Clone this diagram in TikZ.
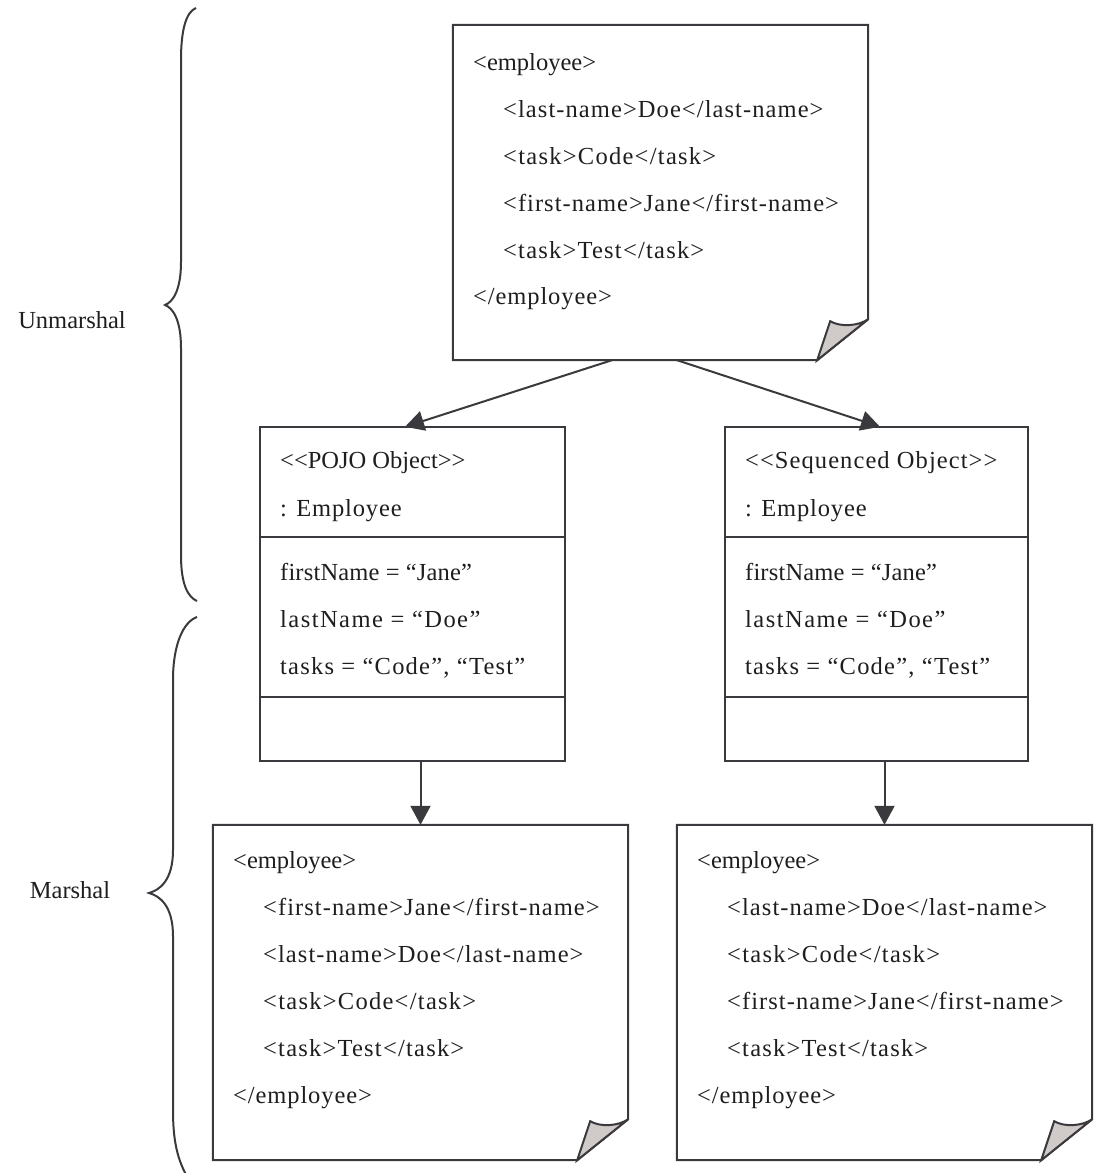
\documentclass[tikz,border=0pt]{standalone}
\usepackage{fontspec}
\setmainfont{Liberation Serif}
\usetikzlibrary{arrows.meta,calc}
\definecolor{ink}{RGB}{58,58,62}
\definecolor{curl}{RGB}{208,203,200}
\definecolor{txtc}{RGB}{30,30,30}
\tikzset{
  outline/.style={draw=ink, line width=2pt, line join=miter},
  frame/.style={inner sep=0pt, draw=none, minimum width=#1},
  txt/.style={anchor=base west, inner sep=0pt, text=txtc,
              font=\fontsize{24.5}{30}\selectfont},
  ls/.style={font=\fontsize{24.5}{30}\selectfont\addfontfeature{LetterSpace=#1}},
  side/.style={inner sep=0pt, text=txtc, font=\fontsize{24.5}{30}\selectfont},
  link/.style={draw=ink, line width=2pt,
               -{Triangle[length=19pt,width=20pt]}},
  bracket/.style={draw=ink, line width=2pt},
}
% document with a dog-eared bottom right corner
\newcommand\drawnote[1]{%
  \draw[outline] (#1.north west) -- (#1.north east)
    -- ($(#1.south east)+(0,-41)$) -- ($(#1.south east)+(-51,0)$)
    -- (#1.south west) -- cycle;
  \filldraw[outline, fill=curl] ($(#1.south east)+(-51,0)$)
    -- ($(#1.south east)+(-38,-39)$)
    .. controls ($(#1.south east)+(-28,-33)$) and ($(#1.south east)+(-10,-34)$)
    .. ($(#1.south east)+(0,-41)$) -- cycle;
}
% class box with two compartment separators
\newcommand\drawclass[1]{%
  \draw[outline] (#1.north west) rectangle (#1.south east);
  \draw[outline] ($(#1.north west)+(0,110)$) -- ($(#1.north east)+(0,110)$);
  \draw[outline] ($(#1.north west)+(0,270)$) -- ($(#1.north east)+(0,270)$);
}
\begin{document}
\begin{tikzpicture}[x=1pt,y=-1pt]
\useasboundingbox (0,0) rectangle (1093,1173);

% frames
\node[frame=415pt, minimum height=335pt] (xmlin) at (660.5,192.5) {};
\node[frame=305pt, minimum height=334pt] (pojo) at (412.5,594) {};
\node[frame=303pt, minimum height=334pt] (seq) at (876.5,594) {};
\node[frame=415pt, minimum height=335pt] (outL) at (420.5,992.5) {};
\node[frame=415pt, minimum height=335pt] (outR) at (884.5,992.5) {};

\drawnote{xmlin}
\drawnote{outL}
\drawnote{outR}
\drawclass{pojo}
\drawclass{seq}

% input document
\node[txt] (i1) at (473,70)  {<employee>};
\node[txt, ls=4.4] (i2) at (503,117) {<last-name>Doe</last-name>};
\node[txt, ls=5.2] (i3) at (503,164) {<task>Code</task>};
\node[txt, ls=4.2] (i4) at (503,211) {<first-name>Jane</first-name>};
\node[txt, ls=5.0] (i5) at (503,258) {<task>Test</task>};
\node[txt, ls=3.7] (i6) at (473,304) {</employee>};

% POJO object
\node[txt] (p1) at (280,468) {<{}<POJO Object>{}>};
\node[txt, ls=3.5] (p2) at (280,516) {: Employee};
\node[txt, ls=0.7] (p3) at (280,580) {firstName = “Jane”};
\node[txt, ls=6.0] (p4) at (280,627) {lastName = “Doe”};
\node[txt, ls=5.0] (p5) at (280,674) {tasks = “Code”, “Test”};

% sequenced object
\node[txt, ls=4.4] (s1) at (745,468) {<{}<Sequenced Object>{}>};
\node[txt, ls=3.5] (s2) at (745,516) {: Employee};
\node[txt, ls=0.7] (s3) at (745,580) {firstName = “Jane”};
\node[txt, ls=6.0] (s4) at (745,627) {lastName = “Doe”};
\node[txt, ls=5.0] (s5) at (745,674) {tasks = “Code”, “Test”};

% output of the POJO object
\node[txt] (a1) at (233,868)  {<employee>};
\node[txt, ls=4.3] (a2) at (263,915)  {<first-name>Jane</first-name>};
\node[txt, ls=4.4] (a3) at (263,962)  {<last-name>Doe</last-name>};
\node[txt, ls=5.2] (a4) at (263,1009) {<task>Code</task>};
\node[txt, ls=5.0] (a5) at (263,1056) {<task>Test</task>};
\node[txt, ls=3.7] (a6) at (233,1103) {</employee>};

% output of the sequenced object
\node[txt] (b1) at (697,868)  {<employee>};
\node[txt, ls=4.4] (b2) at (727,915)  {<last-name>Doe</last-name>};
\node[txt, ls=5.2] (b3) at (727,962)  {<task>Code</task>};
\node[txt, ls=4.3] (b4) at (727,1009) {<first-name>Jane</first-name>};
\node[txt, ls=5.0] (b5) at (727,1056) {<task>Test</task>};
\node[txt, ls=3.7] (b6) at (697,1103) {</employee>};

% connectors
\draw[link] ($(xmlin.south)+(-48.5,0)$) -- ($(pojo.north)+(-7.5,0)$);
\draw[link] ($(xmlin.south)+(16.5,0)$) -- ($(seq.north)+(3.5,0)$);
\draw[link] (pojo.south -| outL.north) -- (outL.north);
\draw[link] (seq.south -| outR.north) -- (outR.north);

% phase labels and braces
\node[side] (unm) at (72,320) {Unmarshal};
\node[side] (mar) at (70,890) {Marshal};

\draw[bracket] (196,8) .. controls (186,12) and (181,30) .. (181,60)
  -- (181,262) .. controls (181,290) and (173,302) .. (165,305)
  .. controls (173,308) and (181,320) .. (181,348)
  -- (181,555) .. controls (181,585) and (188,597) .. (197,601);

\draw[bracket] (197,617) .. controls (183,622) and (173,645) .. (173,680)
  -- (173,850) .. controls (173,880) and (160,890) .. (149,893)
  .. controls (160,896) and (173,906) .. (173,936)
  -- (173,1110) .. controls (173,1140) and (177,1160) .. (189,1180);
\end{tikzpicture}
\end{document}
